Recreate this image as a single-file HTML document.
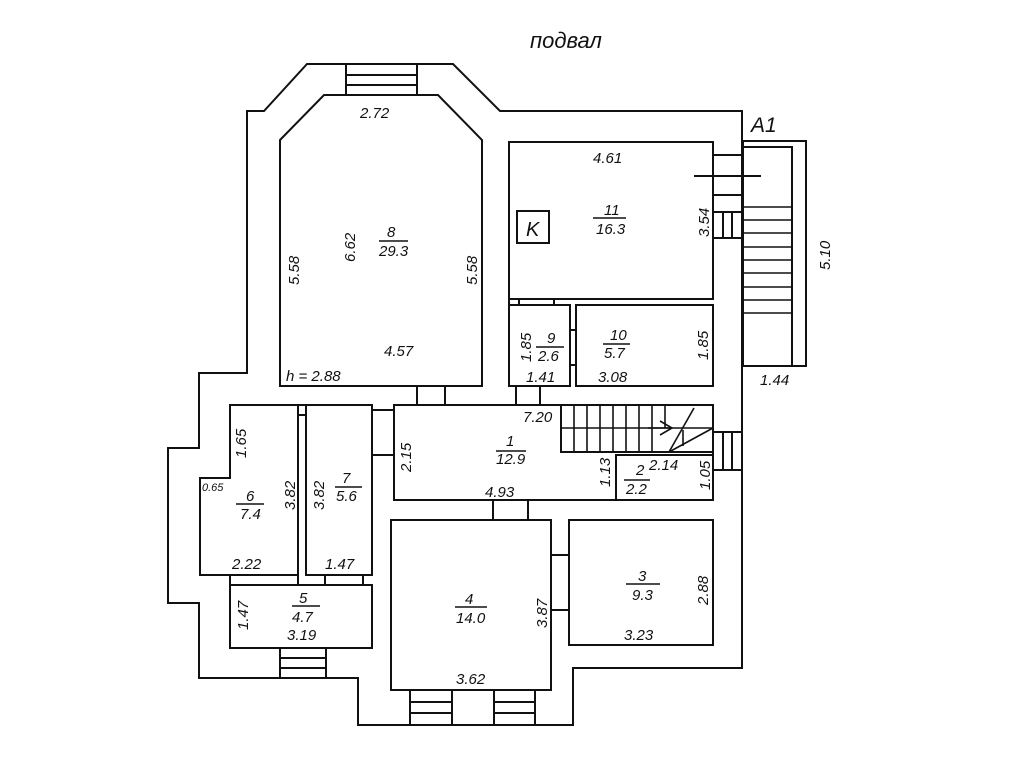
<!DOCTYPE html>
<html><head><meta charset="utf-8"><style>
body{margin:0;background:#fff}
svg text{font-family:"Liberation Sans",sans-serif;font-style:italic;font-size:15px;fill:#111}
</style></head><body>
<svg width="1024" height="768" viewBox="0 0 1024 768" xmlns="http://www.w3.org/2000/svg">
<g fill="none" stroke="#111" stroke-width="2">
<polygon points="307,64 453,64 500,111 742,111 742,668 573,668 573,725 358,725 358,678 199,678 199,603 168,603 168,448 199,448 199,373 247,373 247,111 264,111"/>
<polygon points="280,140 324,95 438,95 482,140 482,386 280,386"/>
<rect x="346" y="64" width="71" height="31"/><line x1="346" y1="75" x2="417" y2="75"/><line x1="346" y1="85" x2="417" y2="85"/>
<rect x="417" y="386" width="28" height="19"/>
<rect x="509" y="142" width="204" height="157"/>
<rect x="517" y="211" width="32" height="32"/>
<rect x="713" y="155" width="30" height="40"/>
<rect x="713" y="212" width="30" height="26"/><line x1="723" y1="212" x2="723" y2="238"/><line x1="732" y1="212" x2="732" y2="238"/>
<line x1="694" y1="176" x2="761" y2="176"/>
<rect x="743" y="141" width="63" height="225"/>
<polyline points="743,147 792,147 792,366"/>
<g stroke-width="1.6">
<line x1="743" y1="207" x2="792" y2="207"/><line x1="743" y1="220" x2="792" y2="220"/><line x1="743" y1="233" x2="792" y2="233"/><line x1="743" y1="247" x2="792" y2="247"/><line x1="743" y1="260" x2="792" y2="260"/><line x1="743" y1="273" x2="792" y2="273"/><line x1="743" y1="287" x2="792" y2="287"/><line x1="743" y1="300" x2="792" y2="300"/><line x1="743" y1="313" x2="792" y2="313"/>
</g>
<rect x="509" y="305" width="61" height="81"/>
<rect x="576" y="305" width="137" height="81"/>
<line x1="509" y1="299" x2="509" y2="305"/><line x1="519" y1="299" x2="519" y2="305"/><line x1="554" y1="299" x2="554" y2="305"/>
<line x1="570" y1="330" x2="576" y2="330"/><line x1="570" y1="365" x2="576" y2="365"/>
<rect x="516" y="386" width="24" height="19"/>
<rect x="394" y="405" width="319" height="95"/>
<polyline points="561,405 561,452 713,452"/>
<g stroke-width="1.6">
<line x1="561" y1="428" x2="713" y2="428"/>
<line x1="574" y1="405" x2="574" y2="452"/><line x1="587" y1="405" x2="587" y2="452"/><line x1="600" y1="405" x2="600" y2="452"/><line x1="613" y1="405" x2="613" y2="452"/><line x1="626" y1="405" x2="626" y2="452"/><line x1="639" y1="405" x2="639" y2="452"/><line x1="652" y1="405" x2="652" y2="452"/><line x1="665" y1="405" x2="665" y2="428"/>
<line x1="669" y1="452" x2="694" y2="408"/><line x1="669" y1="452" x2="713" y2="428"/>
<polyline points="648,428 672,428"/><polyline points="660,421 672,428 660,435"/><line x1="683" y1="430" x2="683" y2="446"/>
</g>
<rect x="616" y="455" width="97" height="45"/>
<rect x="713" y="432" width="29" height="38"/><line x1="723" y1="432" x2="723" y2="470"/><line x1="732" y1="432" x2="732" y2="470"/>
<rect x="372" y="410" width="22" height="45"/>
<polygon points="230,405 298,405 298,575 200,575 200,478 230,478"/>
<rect x="306" y="405" width="66" height="170"/>
<rect x="298" y="405" width="8" height="10"/>
<rect x="230" y="585" width="142" height="63"/>
<line x1="298" y1="575" x2="298" y2="585"/><line x1="230" y1="575" x2="230" y2="585"/><line x1="325" y1="575" x2="325" y2="585"/><line x1="363" y1="575" x2="363" y2="585"/>
<rect x="280" y="648" width="46" height="30"/><line x1="280" y1="658" x2="326" y2="658"/><line x1="280" y1="668" x2="326" y2="668"/>
<rect x="391" y="520" width="160" height="170"/>
<rect x="569" y="520" width="144" height="125"/>
<rect x="493" y="500" width="35" height="20"/>
<rect x="551" y="555" width="18" height="55"/>
<rect x="410" y="690" width="42" height="35"/><line x1="410" y1="702" x2="452" y2="702"/><line x1="410" y1="713" x2="452" y2="713"/>
<rect x="494" y="690" width="41" height="35"/><line x1="494" y1="702" x2="535" y2="702"/><line x1="494" y1="713" x2="535" y2="713"/>
</g>
<g stroke="#111" stroke-width="1.5">
<line x1="379" y1="241" x2="408" y2="241"/><line x1="593" y1="218" x2="626" y2="218"/><line x1="536" y1="347" x2="564" y2="347"/><line x1="603" y1="344" x2="630" y2="344"/><line x1="496" y1="451" x2="526" y2="451"/><line x1="624" y1="480" x2="650" y2="480"/><line x1="236" y1="504" x2="264" y2="504"/><line x1="335" y1="487" x2="362" y2="487"/><line x1="292" y1="606" x2="320" y2="606"/><line x1="455" y1="607" x2="487" y2="607"/><line x1="626" y1="584" x2="660" y2="584"/>
</g>
<text x="530" y="48" style="font-size:22px">подвал</text>
<text x="751" y="132" style="font-size:21px">A1</text>
<text x="360" y="118">2.72</text>
<text x="387" y="237">8</text><text x="379" y="256">29.3</text>
<text x="384" y="356">4.57</text>
<text x="286" y="381">h = 2.88</text>
<text transform="translate(299,285) rotate(-90)">5.58</text>
<text transform="translate(355,262) rotate(-90)">6.62</text>
<text transform="translate(477,285) rotate(-90)">5.58</text>
<text x="593" y="163">4.61</text>
<text x="526" y="236" style="font-size:20px">K</text>
<text x="604" y="215">11</text><text x="596" y="234">16.3</text>
<text transform="translate(709,237) rotate(-90)">3.54</text>
<text transform="translate(830,270) rotate(-90)">5.10</text>
<text x="760" y="385">1.44</text>
<text transform="translate(531,362) rotate(-90)">1.85</text>
<text x="547" y="343">9</text><text x="538" y="361">2.6</text>
<text x="526" y="382">1.41</text>
<text x="610" y="340">10</text><text x="604" y="358">5.7</text>
<text transform="translate(708,360) rotate(-90)">1.85</text>
<text x="598" y="382">3.08</text>
<text x="523" y="422">7.20</text>
<text x="506" y="446">1</text><text x="496" y="464">12.9</text>
<text transform="translate(411,472) rotate(-90)">2.15</text>
<text x="485" y="497">4.93</text>
<text transform="translate(610,487) rotate(-90)">1.13</text>
<text x="636" y="475">2</text><text x="649" y="470">2.14</text><text x="626" y="494">2.2</text>
<text transform="translate(710,490) rotate(-90)">1.05</text>
<text transform="translate(246,458) rotate(-90)">1.65</text>
<text x="202" y="491" style="font-size:11px">0.65</text>
<text x="246" y="501">6</text><text x="240" y="519">7.4</text>
<text transform="translate(295,510) rotate(-90)">3.82</text>
<text transform="translate(324,510) rotate(-90)">3.82</text>
<text x="342" y="483">7</text><text x="336" y="501">5.6</text>
<text x="232" y="569">2.22</text>
<text x="325" y="569">1.47</text>
<text transform="translate(248,630) rotate(-90)">1.47</text>
<text x="299" y="603">5</text><text x="292" y="622">4.7</text>
<text x="287" y="640">3.19</text>
<text x="465" y="604">4</text><text x="456" y="623">14.0</text>
<text transform="translate(547,628) rotate(-90)">3.87</text>
<text x="456" y="684">3.62</text>
<text x="638" y="581">3</text><text x="632" y="600">9.3</text>
<text transform="translate(708,605) rotate(-90)">2.88</text>
<text x="624" y="640">3.23</text>
</svg>
</body></html>
